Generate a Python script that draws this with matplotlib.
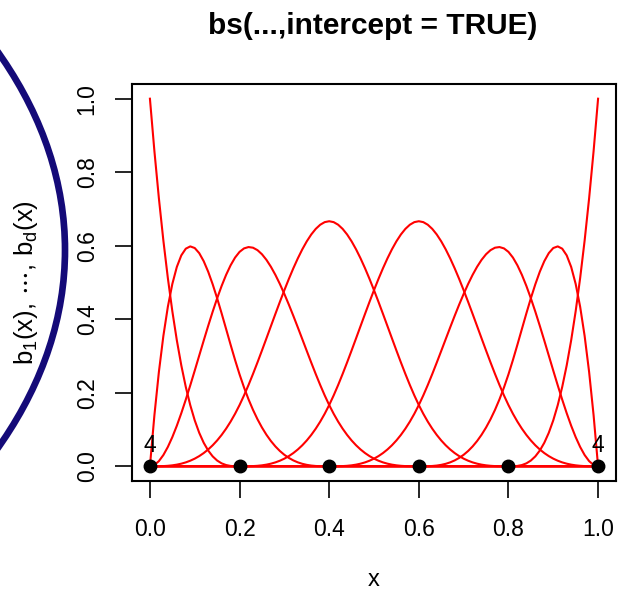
import matplotlib
matplotlib.use("Agg")
import matplotlib.pyplot as plt
from matplotlib.patches import Ellipse
import numpy as np

# cubic B-spline basis with intercept, knots
inner_knots = [0.2, 0.4, 0.6, 0.8]
boundary = [0.0, 1.0]
degree = 3
knot_x = [0.0, 0.2, 0.4, 0.6, 0.8, 1.0]
knot_mult_labels = ["4", "", "", "", "", "4"]
x_ticks = [0.0, 0.2, 0.4, 0.6, 0.8, 1.0]
y_ticks = [0.0, 0.2, 0.4, 0.6, 0.8, 1.0]
title = "bs(...,intercept = TRUE)"

plt.rcParams['font.family'] = ['Liberation Sans', 'DejaVu Sans']
plt.rcParams['mathtext.fontset'] = 'custom'
plt.rcParams['mathtext.rm'] = 'Liberation Sans'
plt.rcParams['mathtext.it'] = 'Liberation Sans'


def bspline_basis(x, knots, k):
    # Cox-de Boor recursion
    t = np.asarray(knots)
    n = len(t) - 1
    B = np.zeros((len(x), n))
    for i in range(n):
        B[:, i] = (x >= t[i]) & (x < t[i + 1])
    for d in range(1, k + 1):
        Bn = np.zeros((len(x), n - d))
        for i in range(n - d):
            left = 0.0
            if t[i + d] > t[i]:
                left = (x - t[i]) / (t[i + d] - t[i]) * B[:, i]
            right = 0.0
            if t[i + d + 1] > t[i + 1]:
                right = (t[i + d + 1] - x) / (t[i + d + 1] - t[i + 1]) * B[:, i + 1]
            Bn[:, i] = left + right
        B = Bn
    return B


knots = [boundary[0]] * (degree + 1) + inner_knots + [boundary[1]] * (degree + 1)
xs = np.linspace(boundary[0], boundary[1], 101)
xs[-1] = boundary[1] - 1e-9
basis = bspline_basis(xs, knots, degree)

fig = plt.figure(figsize=(6.2, 5.96), dpi=100)
ax = fig.add_axes([132 / 620, 115 / 596, 484 / 620, 397 / 596])

for j in range(basis.shape[1]):
    ax.plot(xs, basis[:, j], color='red', lw=1.5)

ax.plot(knot_x, np.zeros(len(knot_x)), 'o', color='black', ms=9, zorder=5)
for kx, lab in zip(knot_x, knot_mult_labels):
    if lab:
        ax.text(kx, 0.025, lab, ha='center', va='bottom', fontsize=16.5)

ax.set_xlim(-0.04, 1.04)
ax.set_ylim(-0.04, 1.04)
ax.set_xticks(x_ticks)
ax.set_yticks(y_ticks)
ax.set_xticklabels([f"{v:.1f}" for v in x_ticks])
ax.set_yticklabels([f"{v:.1f}" for v in y_ticks], rotation=90, va='center')
ax.tick_params(length=12, width=1.2, labelsize=16.5)
ax.tick_params(axis='x', pad=15)
ax.tick_params(axis='y', pad=12)
for s in ax.spines.values():
    s.set_linewidth(1.5)

ax.set_xlabel("x", fontsize=17, labelpad=20)
ax.set_ylabel(r"$\mathregular{b_1(x),\,\cdots,\,b_d(x)}$", fontsize=18.5, labelpad=26)
fig.text(373 / 620, 1 - 26 / 596, title, ha='center', va='center',
         fontsize=21.5, fontweight='bold')

# hand-drawn style highlight arc on the left
ell = Ellipse((-7.56, 3.46), 16.42, 10.0, fill=False, edgecolor='#140a78',
              lw=4.8, transform=fig.dpi_scale_trans, clip_on=False)
fig.add_artist(ell)

fig.savefig("out.png", dpi=100)
